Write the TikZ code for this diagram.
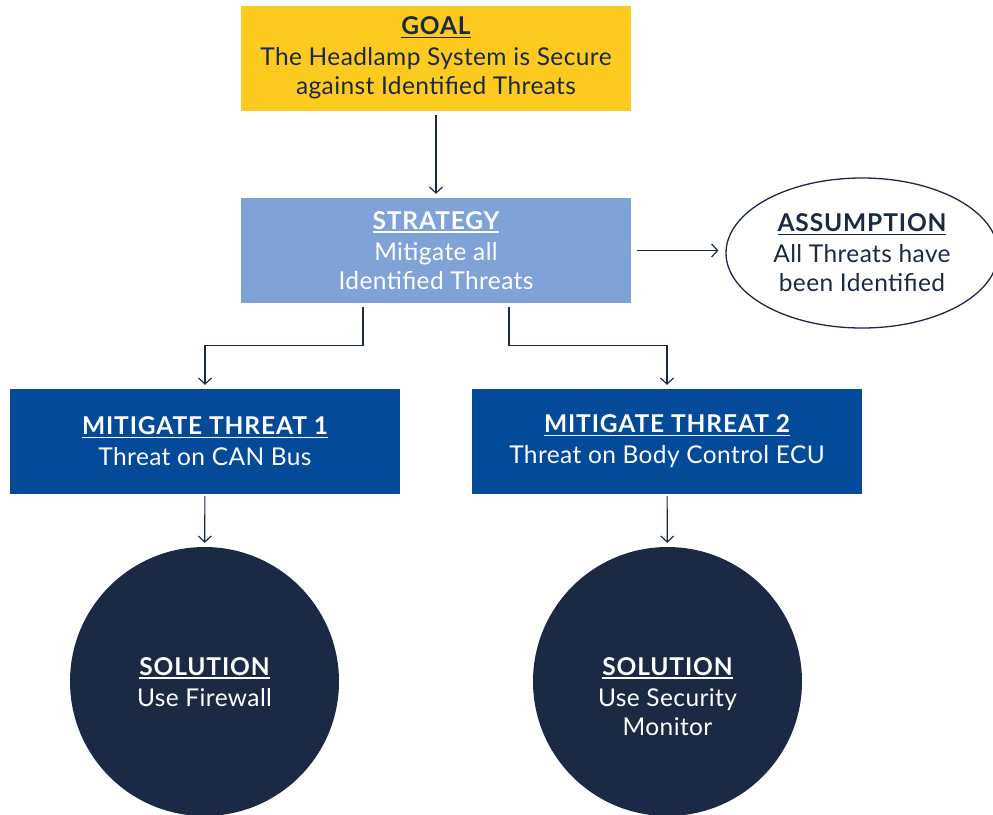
\documentclass[tikz,border=0pt]{standalone}
\usepackage{fontspec}
\setmainfont{Lato}[LetterSpace=1.6]
\newfontfamily\headfont{Lato}[LetterSpace=3.6]
\usetikzlibrary{arrows.meta,shapes.geometric}
\definecolor{gold}{HTML}{FDCB1F}
\definecolor{lightblue}{HTML}{7FA3D6}
\definecolor{midblue}{HTML}{034A98}
\definecolor{navy}{HTML}{1B2944}
\newcommand{\hd}[1]{\setbox0\hbox{\headfont\bfseries #1}\rlap{\rule[-3.5pt]{\wd0}{1.4pt}}\box0}
\tikzset{
  every node/.style={font=\fontsize{24.5}{29}\selectfont},
  boxnode/.style={rectangle, minimum width=390pt, minimum height=105pt, inner sep=0pt, align=center},
  solution/.style={circle, fill=navy, minimum size=269pt, inner sep=0pt},
  txt/.style={align=center, inner sep=0pt, text=white},
  arr/.style={draw=navy, line width=1.2pt, -{Straight Barb[length=6pt,width=13pt,line width=1.2pt]}},
}
\begin{document}
\begin{tikzpicture}[x=1pt,y=-1pt]
\useasboundingbox (0,0) rectangle (993,814);
\node[boxnode, fill=gold, text=navy] (goal) at (436,58) {\hd{GOAL}\\[2pt]The Headlamp System is Secure\\against Identified Threats};
\node[boxnode, fill=lightblue, text=white] (strategy) at (436,250.5) {\hd{STRATEGY}\\[2pt]Mitigate all\\Identified Threats};
\node[ellipse, draw=navy, line width=1.3pt, minimum width=272pt, minimum height=150pt, inner sep=0pt, align=center, text=navy] (assump) at (862,253) {\hd{ASSUMPTION}\\[2pt]All Threats have\\been Identified};
\node[boxnode, fill=midblue, text=white] (m1) at (205,441.5) {\hd{MITIGATE THREAT 1}\\[2pt]Threat on CAN Bus};
\node[boxnode, fill=midblue, text=white] (m2) at (667,441.5) {\hd{MITIGATE THREAT 2}\\[2pt]Threat on Body Control ECU};
\node[solution] (s1) at (204.5,681.5) {};
\node[solution] (s2) at (667.5,681.5) {};
\node[txt, anchor=north] (s1t) at (204.5,657) {\hd{SOLUTION}\\[2pt]Use Firewall};
\node[txt, anchor=north] (s2t) at (667.5,657) {\hd{SOLUTION}\\[2pt]Use Security\\Monitor};
\draw[arr, shorten <=4pt, shorten >=4pt] (goal) -- (strategy);
\draw[arr, shorten <=6pt, shorten >=7pt] (strategy.east) -- (strategy.east -| assump.west);
\draw[arr, shorten >=4pt] ([xshift=-73pt,yshift=-4pt]strategy.south) -- ++(0,38) -| (m1.north);
\draw[arr, shorten >=4pt] ([xshift=73pt,yshift=-4pt]strategy.south) -- ++(0,38) -| (m2.north);
\draw[arr, shorten <=2pt, shorten >=4pt] (m1) -- (s1);
\draw[arr, shorten <=2pt, shorten >=4pt] (m2) -- (s2);
\end{tikzpicture}
\end{document}
